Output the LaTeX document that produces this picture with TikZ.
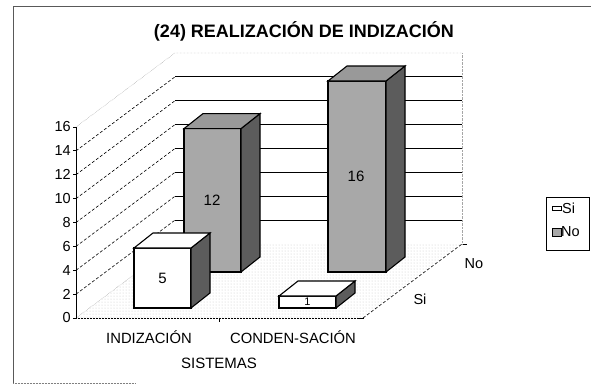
\documentclass[tikz,border=0pt]{standalone}
\usepackage{fontspec}
\setmainfont{Liberation Sans}
\usetikzlibrary{patterns}
\definecolor{stip}{gray}{0.66}
\definecolor{stiptop}{gray}{0.6}
\definecolor{stipdark}{gray}{0.36}
\tikzset{
  lbl/.style={inner sep=0pt, font=\fontsize{14.5}{14.5}\selectfont},
  vallbl/.style={inner sep=0pt, font=\fontsize{15}{15}\selectfont},
  grid/.style={line width=0.8pt},
  diag/.style={dashed, dash pattern=on 3pt off 2pt, line width=0.6pt},
  face/.style={draw=black, line width=1.1pt, line join=miter},
}
\newcommand\barbox[7]{%
  % #1 x1, #2 x2, #3 ybot, #4 ytop, #5 front style, #6 side style, #7 top style
  \filldraw[face,#5] (#1,#3) rectangle (#2,#4);
  \filldraw[face,#6] (#2,#3) -- (#2+19,#3-15) -- (#2+19,#4-15) -- (#2,#4) -- cycle;
  \filldraw[face,#7] (#1,#4) -- (#1+19,#4-15) -- (#2+19,#4-15) -- (#2,#4) -- cycle;
}
\begin{document}
\begin{tikzpicture}[x=1pt,y=-1pt]
\useasboundingbox (0,0) rectangle (591,386);
% frame
\draw[line width=0.6pt, gray!70!black] (591,6) -- (13,6) -- (13,383);
\draw[line width=0.5pt, densely dotted, gray] (13,383) -- (135,383);
% title
\node[inner sep=0pt, font=\bfseries\fontsize{18}{18}\selectfont] (title) at (304,31) {(24) REALIZACIÓN DE INDIZACIÓN};
% floor
\fill[pattern=dots, pattern color=gray!45] (76,318) -- (363,318) -- (462,244) -- (175,244) -- cycle;
\draw[densely dotted, line width=0.5pt] (76,318) -- (363,318);
\draw[diag] (363,318) -- (462,244);
\draw[line width=0.5pt] (462,244) -- (467,244);
\draw[line width=0.5pt] (363,318) -- (358,318);
\draw[densely dotted, gray!70] (462,244) -- (462,53);
% walls and gridlines
\foreach \v in {2,4,...,14} {
  \draw[diag] (76,{318-11.94*\v}) -- (175,{244-11.94*\v});
  \draw[grid] (175,{244-11.94*\v}) -- (462,{244-11.94*\v});
}
\draw[densely dotted, gray] (76,{318-11.94*16}) -- (175,{244-11.94*16}) -- (462,{244-11.94*16});
\draw[densely dotted, gray] (76,318) -- (175,244);
% y axis
\draw[line width=0.7pt] (76,127) -- (76,318);
\foreach \v in {0,2,...,16} {
  \draw[line width=0.7pt] (73,{318-11.94*\v}) -- (76,{318-11.94*\v});
  \node[lbl, anchor=east] (y\v) at (71,{318-11.94*\v}) {\v};
}
\draw[line width=0.6pt] (219,318) -- (219,322);
% back row bars (No)
\barbox{184}{241}{272}{128.6}{fill=stip}{fill=stipdark}{fill=stiptop}
\barbox{328}{386}{272}{81}{fill=stip}{fill=stipdark}{fill=stiptop}
\node[vallbl] (v12) at (212,200) {12};
\node[vallbl] (v16) at (356,176) {16};
% front row bars (Si)
\barbox{134}{191}{308}{248}{fill=white}{fill=stipdark}{fill=white}
\barbox{279}{336}{308}{296}{fill=white}{fill=stipdark}{fill=white}
\node[vallbl] (v5) at (162.5,278) {5};
\node[inner sep=0pt, font=\fontsize{11}{11}\selectfont] (v1) at (307.5,302) {1};
% category labels
\node[lbl, font=\fontsize{14.8}{15}\selectfont] (c1) at (149,337) {INDIZACIÓN};
\node[lbl, font=\fontsize{14.8}{15}\selectfont] (c2) at (293,337) {CONDEN-SACIÓN};
\node[lbl, font=\fontsize{15}{15}\selectfont] (sis) at (219,363) {SISTEMAS};
% depth labels
\node[lbl] (dno) at (474,264) {No};
\node[lbl] (dsi) at (420,299) {Si};
% legend
\draw[line width=0.6pt] (546,197) rectangle (589,250);
\draw[line width=0.8pt, fill=white] (552,206) rectangle (561,210.5);
\draw[line width=0.8pt, fill=stip] (552,228) rectangle (561,236);
\node[lbl, anchor=west] (lsi) at (562,208.5) {Si};
\node[lbl, anchor=west] (lno) at (561,232) {No};
\end{tikzpicture}
\end{document}
